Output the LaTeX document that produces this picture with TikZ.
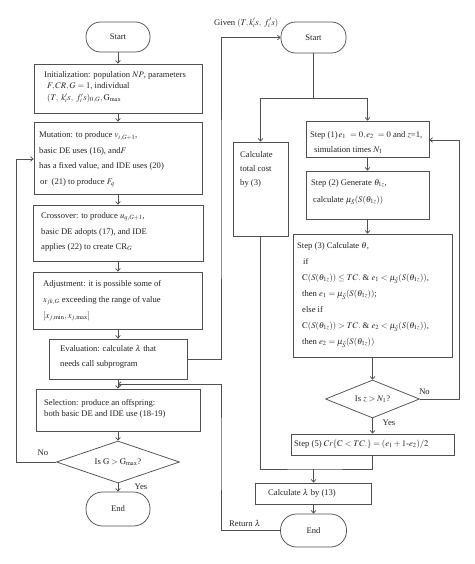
\documentclass[tikz,border=0pt]{standalone}
\usepackage{mathptmx}
\usepackage{fontspec}
\setmainfont{Liberation Serif}
\usetikzlibrary{arrows.meta,shapes.geometric}
\definecolor{lc}{HTML}{505050}
\definecolor{tc}{HTML}{222222}
\newcommand\myfs{\fontsize{8.6}{11}\selectfont}
\newcommand\myfsb[1]{\fontsize{8.6}{#1}\selectfont}
\begin{document}
\begin{tikzpicture}[x=1pt,y=-1pt,
 ln/.style={draw=lc, line width=0.75pt},
 bx/.style={ln, rectangle, inner sep=0pt},
 term/.style={ln, rectangle, rounded corners=14.5pt, inner sep=0pt, font=\myfs, text=tc},
 dia/.style={ln, diamond, aspect=3, inner sep=0pt, font=\myfs, text=tc},
 txt/.style={anchor=west, align=left, inner sep=0pt, text=tc},
 arr/.style={ln, -{Straight Barb[length=2.6pt,width=4.6pt]}},
 lbl/.style={inner sep=0pt, font=\myfs, text=tc}]
\useasboundingbox (0,0) rectangle (474,564);
% ---------------- left column ----------------
\node[term, minimum width=64pt, minimum height=30pt] (start1) at (118,37) {Start};
\node[bx, minimum width=168pt, minimum height=49pt] (init) at (118,88.5) {};
\node[txt, font=\myfsb{11.5}] (tinit) at (44,87) {Initialization: population $NP$, parameters\\\hspace*{3pt}$F, CR, G = 1$, individual\\\hspace*{3pt}$(T,\ k_i^\prime s,\ f_i^\prime s)_{0,G}, \mathrm{G}_{\max}$};
\node[bx, minimum width=168pt, minimum height=72pt] (mut) at (118,158) {};
\node[txt, font=\myfsb{15.5}] (tmut) at (39,159.5) {Mutation: to produce $v_{i,G+1}$,\\basic DE uses (16), and$F$\\has a fixed value, and IDE uses (20)\\\hspace*{1pt}or\ \ (21) to produce $F_q$};
\node[bx, minimum width=170pt, minimum height=56pt] (cross) at (118,233) {};
\node[txt, font=\myfsb{15.5}] (tcross) at (41,232) {Crossover: to produce $u_{q,G+1}$,\\basic DE adopts (17), and IDE\\applies (22) to create CR$_G$};
\node[bx, minimum width=169pt, minimum height=57pt] (adj) at (118,300.5) {};
\node[txt, font=\myfsb{16}] (tadj) at (43,300.5) {Adjustment: it is possible some of\\$x_{jk,G}$ exceeding the range of value\\$[x_{j,\min}, x_{j,\max}]$};
\node[bx, minimum width=138pt, minimum height=40pt] (eval) at (118,359) {};
\node[txt, font=\myfsb{15}] (teval) at (60,357) {Evaluation: calculate $\lambda$ that\\needs call subprogram};
\node[bx, minimum width=164pt, minimum height=42pt] (sel) at (118,410) {};
\node[txt, font=\myfsb{11.5}] (tsel) at (44,409) {Selection: produce an offspring:\\both basic DE and IDE use (18-19)};
\node[dia, minimum width=123pt, minimum height=42pt] (dia1) at (118,462) {Is $\mathrm{G} > \mathrm{G}_{\max}$?};
\node[term, minimum width=64pt, minimum height=34pt, rounded corners=16.5pt] (end1) at (118,509) {End};
\node[lbl] (no1) at (43,453) {No};
\node[lbl] (yes1) at (141,487) {Yes};
\draw[arr] (start1) -- (init);
\draw[arr] (init) -- (mut);
\draw[arr] (mut) -- (cross);
\draw[arr] (cross) -- (adj);
\draw[arr] (adj) -- (eval);
\draw[arr] (eval) -- (sel);
\draw[arr] (sel) -- (dia1);
\draw[arr] (dia1) -- (end1);
\coordinate (nl) at (16,159);
\draw[arr] (dia1.west) -| (nl) -- (nl -| mut.west);
% ---------------- right column ----------------
\node[term, minimum width=65pt, minimum height=31pt] (start2) at (313.5,37.5) {Start};
\node[lbl, anchor=west] (given) at (214,23) {Given $(T, k_i^\prime s,\ f_i^\prime s)$};
\node[bx, minimum width=55pt, minimum height=94pt] (calc) at (260.5,189) {};
\node[txt, font=\myfsb{14}] (tcalc) at (240,169) {Calculate\\total cost\\by (3)};
\node[bx, minimum width=123pt, minimum height=36pt] (s1) at (367.5,139) {};
\node[txt, font=\myfsb{15}] (ts1) at (310,142.5) {Step (1)$\,e_1\ = 0, e_2\ = 0$ and $z$=1,\\\hspace*{4pt}simulation times $N_1$};
\node[bx, minimum width=123pt, minimum height=48pt] (s2) at (367.5,195) {};
\node[txt, font=\myfsb{17}] (ts2) at (311,192) {Step (2) Generate $\theta_{1z}$,\\\hspace*{2pt}calculate $\mu_{\tilde S}(S(\theta_{1z}))$};
\node[bx, minimum width=159pt, minimum height=123pt] (s3) at (372.5,295.5) {};
\node[txt, font=\myfsb{16}] (ts3) at (297,295) {Step (3) Calculate $\theta$,\\
\hspace*{6pt}if\\
\hspace*{5pt}$\mathrm{C}(S(\theta_{1z})) \le TC.$ \& $e_1 < \mu_{\tilde S}(S(\theta_{1z}))$,\\
\hspace*{5pt}then $e_1 = \mu_{\tilde S}(S(\theta_{1z}))$;\\
\hspace*{5pt}else if\\
\hspace*{5pt}$\mathrm{C}(S(\theta_{1z})) > TC.$ \& $e_2 < \mu_{\tilde S}(S(\theta_{1z}))$,\\
\hspace*{5pt}then $e_2 = \mu_{\tilde S}(S(\theta_{1z}))$};
\node[dia, aspect=2.5, minimum width=94pt, minimum height=38pt] (dia2) at (372.5,399) {Is $z > N_1$?};
\node[bx, minimum width=163pt, minimum height=21pt] (s5) at (372.5,444.5) {};
\node[txt, font=\myfs] (ts5) at (294,444.5) {Step (5) $Cr\{\mathrm{C} < TC.\} = (e_1 + 1\mbox{-}e_2)/2$};
\node[bx, minimum width=116pt, minimum height=21pt] (clam) at (313.5,493.5) {};
\node[txt, font=\myfs] (tclam) at (268,493.5) {Calculate $\lambda$ by (13)};
\node[term, minimum width=66pt, minimum height=33pt, rounded corners=16pt] (end2) at (313.5,530.5) {End};
\node[lbl] (no2) at (424.5,392) {No};
\node[lbl] (yes2) at (389,423) {Yes};
\node[lbl, anchor=west] (ret) at (229,523) {Return $\lambda$};
\coordinate (sp) at (313.5,98);
\draw[ln] (start2) -- (sp);
\draw[arr] (sp) -| (calc.north);
\draw[arr] (sp) -| (s1.north);
\draw[arr] (s1) -- (s2);
\draw[arr] (s2.south) -- (s2.south |- s3.north);
\draw[arr] (s3) -- (dia2);
\draw[arr] (dia2) -- (s5);
\coordinate (nr) at (459,140);
\draw[arr] (dia2.east) -| (nr) -- (nr -| s1.east);
\coordinate (jn) at (313.5,469);
\draw[ln] (calc.south) |- (jn) -| (s5.south);
\draw[arr] (jn) -- (clam);
\draw[arr] (clam) -- (end2);
% ---------------- links between the two ----------------
\coordinate (gx) at (221,200);
\draw[arr] (eval.east) -| (gx) |- (start2.west);
\coordinate (rx) at (221,450);
\coordinate (rj) at (118,384);
\draw[arr] (end2.west) -| (rx) |- (rj);
\end{tikzpicture}
\end{document}
